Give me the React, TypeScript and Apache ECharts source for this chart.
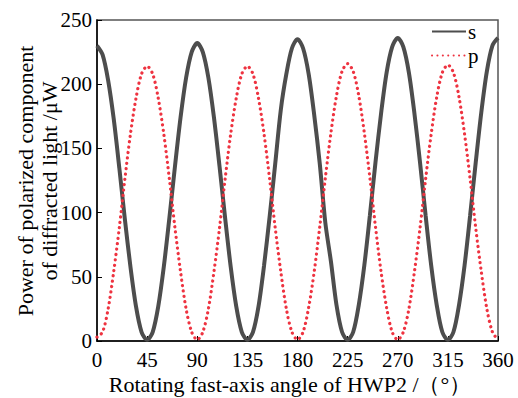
import React, { useEffect, useRef } from "react";
import * as echarts from "echarts";

const angles = [
  0, 5, 10, 15, 20, 25, 30, 35, 40, 45, 50, 55, 60, 65, 70, 75, 80, 85, 90,
  95, 100, 105, 110, 115, 120, 125, 130, 135, 140, 145, 150, 155, 160, 165, 170, 175, 180,
  185, 190, 195, 200, 205, 210, 215, 220, 225, 230, 235, 240, 245, 250, 255, 260, 265, 270,
  275, 280, 285, 290, 295, 300, 305, 310, 315, 320, 325, 330, 335, 340, 345, 350, 355, 360,
];

const sValues = [
  230, 223, 203, 173, 135, 95, 58, 27, 7, 1,
  7, 27, 58, 96, 136, 174, 205, 225, 232,
  225, 205, 174, 136, 96, 58, 27, 7, 1,
  7, 27, 59, 97, 138, 180, 208, 228, 235,
  228, 208, 176, 138, 92, 62, 28, 7, 1,
  7, 28, 59, 98, 139, 177, 209, 229, 236,
  229, 209, 177, 139, 98, 59, 28, 7, 1,
  7, 28, 59, 98, 139, 178, 210, 230, 236,
];

const pValues = [
  3, 7, 25, 54, 88, 126, 161, 189, 208, 214,
  208, 189, 161, 126, 88, 54, 25, 7, 1,
  7, 25, 54, 88, 126, 161, 189, 208, 214,
  208, 189, 161, 126, 88, 54, 25, 7, 1,
  7, 26, 54, 89, 127, 162, 191, 210, 216,
  210, 191, 162, 127, 89, 54, 26, 7, 1,
  7, 25, 54, 88, 126, 161, 190, 209, 215,
  209, 190, 161, 126, 88, 54, 25, 7, 1,
];

const seriesNames = ["s", "p"];
const xTitle = "Rotating fast-axis angle of HWP2 /（°）";
const yTitle1 = "Power of polarized component";
const yTitle2 = "of diffracted light /μW";

const FONT = "Liberation Serif";

export default function App() {
  const ref = useRef<HTMLDivElement>(null);
  useEffect(() => {
    if (!ref.current) return;
    const chart = echarts.init(ref.current, null, { renderer: "svg" });
    const sData = angles.map((a, i) => [a, sValues[i]]);
    const pData = angles.map((a, i) => [a, pValues[i]]);
    const axisLabel = { fontFamily: FONT, fontSize: 21, color: "#000" };
    const legendBase = {
      orient: "vertical",
      left: 431,
      padding: 0,
      itemWidth: 34,
      itemHeight: 14,
      itemStyle: { opacity: 0 },
      textStyle: {
        fontFamily: FONT,
        fontSize: 21,
        lineHeight: 20,
        color: "#000",
        padding: [0, 0, 0, -3],
      },
    };
    chart.setOption({
      animation: false,
      backgroundColor: "#fff",
      grid: {
        left: 97,
        right: 20,
        top: 20,
        bottom: 57,
        show: true,
        borderColor: "#555",
        borderWidth: 1.5,
      },
      legend: [
        { ...legendBase, top: 21, data: [seriesNames[0]] },
        { ...legendBase, top: 45, data: [seriesNames[1]] },
      ],
      xAxis: {
        type: "value",
        min: 0,
        max: 360,
        interval: 45,
        axisLine: { show: true, lineStyle: { color: "#000", width: 1.5 } },
        axisTick: { show: true, inside: true, length: 5, lineStyle: { color: "#000" } },
        axisLabel: { ...axisLabel, margin: 8 },
        splitLine: { show: false },
      },
      yAxis: {
        type: "value",
        min: 0,
        max: 250,
        interval: 50,
        axisLine: { show: true, lineStyle: { color: "#000", width: 1.5 } },
        axisTick: { show: true, inside: true, length: 5, lineStyle: { color: "#000" } },
        axisLabel: { ...axisLabel, margin: 5 },
        splitLine: { show: false },
      },
      series: [
        {
          name: seriesNames[0],
          type: "line",
          data: sData,
          symbol: "none",
          smooth: 0.3,
          lineStyle: { color: "#4d4d4d", width: 4 },
          itemStyle: { color: "#4d4d4d" },
        },
        {
          name: seriesNames[1],
          type: "line",
          data: pData,
          symbol: "none",
          smooth: 0.3,
          lineStyle: { color: "#ee3340", width: 3.2, type: [0.1, 5.3], cap: "round" },
          itemStyle: { color: "#ee3340" },
        },
      ],
      graphic: [
        {
          type: "text",
          x: 25,
          y: 181,
          rotation: Math.PI / 2,
          style: {
            text: yTitle1,
            fontFamily: FONT,
            fontSize: 22,
            fill: "#000",
            textAlign: "center",
            textVerticalAlign: "middle",
          },
        },
        {
          type: "text",
          x: 49,
          y: 181,
          rotation: Math.PI / 2,
          style: {
            text: yTitle2,
            fontFamily: FONT,
            fontSize: 22,
            fill: "#000",
            textAlign: "center",
            textVerticalAlign: "middle",
          },
        },
        {
          type: "text",
          x: 290,
          y: 384,
          style: {
            text: xTitle,
            fontFamily: FONT,
            fontSize: 22,
            fill: "#000",
            textAlign: "center",
            textVerticalAlign: "middle",
          },
        },
      ],
    });
    return () => chart.dispose();
  }, []);
  return <div ref={ref} style={{ width: 518, height: 398, position: "absolute", left: 0, top: 0 }} />;
}
